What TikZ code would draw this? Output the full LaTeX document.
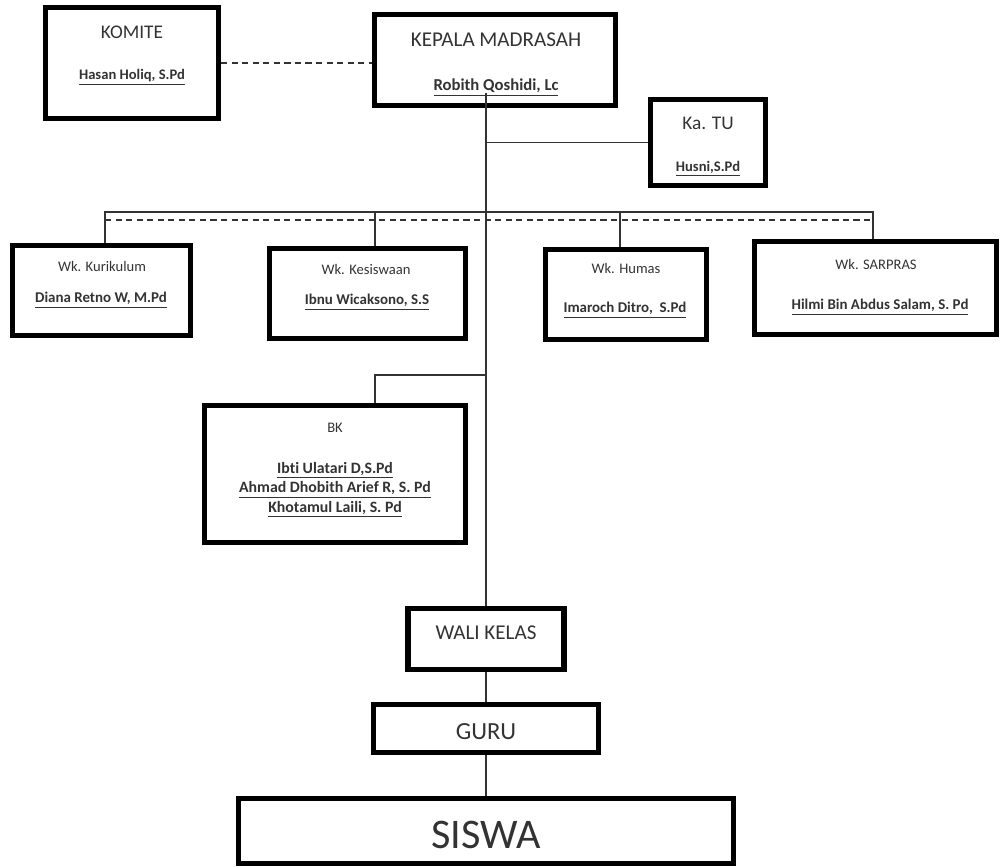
\documentclass[tikz,border=0pt]{standalone}
\usepackage{fontspec}
\setmainfont{Carlito}[Ligatures=NoCommon]
\usepackage{tikz}

\begin{document}
\begin{tikzpicture}[x=0.02cm,y=-0.02cm]
    \useasboundingbox (0,0) rectangle (1000,868);

    \begin{scope}[every node/.style={rectangle,draw,line width=3pt,inner sep=0pt}]
        \node[minimum width=3.46cm,minimum height=2.22cm] (komite) at (132,63) {};
        \node[minimum width=4.82cm,minimum height=1.82cm] (kepala) at (495,60) {};
        \node[minimum width=2.30cm,minimum height=1.72cm] (katu) at (708,142.5) {};
        \node[minimum width=3.56cm,minimum height=1.80cm] (kurikulum) at (101.5,290.5) {};
        \node[minimum width=3.92cm,minimum height=1.80cm] (kesiswaan) at (367.5,293.5) {};
        \node[minimum width=3.22cm,minimum height=1.80cm] (humas) at (626,294.5) {};
        \node[minimum width=4.84cm,minimum height=1.86cm] (sarpras) at (875.5,288) {};
        \node[minimum width=5.22cm,minimum height=2.74cm] (bk) at (335,474) {};
        \node[minimum width=3.12cm,minimum height=1.22cm] (wali) at (486,639) {};
        \node[minimum width=4.50cm,minimum height=0.96cm] (guru) at (486,728.5) {};
        \node[minimum width=9.90cm,minimum height=1.30cm] (siswa) at (486,831) {};
    \end{scope}

    \begin{scope}[every node/.style={text=black!80,inner sep=0pt,align=center}]
        \node[font=\fontsize{11}{13}\selectfont] (komiteT) at (132,32) {KOMITE};
        \node[font=\bfseries\fontsize{8.3}{10}\selectfont] (komiteN) at (132,77) {\underline{Hasan Holiq, S.Pd}};
        \node[font=\fontsize{12}{14}\selectfont] (kepalaT) at (496,40) {KEPALA MADRASAH};
        \node[font=\bfseries\fontsize{9.5}{11}\selectfont] (kepalaN) at (496,88) {\underline{Robith Qoshidi, Lc}};
        \node[font=\fontsize{11}{13}\selectfont] (katuT) at (708,123) {Ka. TU};
        \node[font=\bfseries\fontsize{8.3}{10}\selectfont] (katuN) at (708,169) {\underline{Husni,S.Pd}};
        % wakil kepala %
        \node[font=\fontsize{8.3}{10}\selectfont] (kurikulumT) at (102,266) {Wk. Kurikulum};
        \node[font=\bfseries\fontsize{8.5}{10}\selectfont] (kurikulumN) at (101,300) {\underline{Diana Retno W, M.Pd}};
        \node[font=\fontsize{8.3}{10}\selectfont] (kesiswaanT) at (366,269) {Wk. Kesiswaan};
        \node[font=\bfseries\fontsize{8.5}{10}\selectfont] (kesiswaanN) at (367,302) {\underline{Ibnu Wicaksono, S.S}};
        \node[font=\fontsize{8.3}{10}\selectfont] (humasT) at (626,268) {Wk. Humas};
        \node[font=\bfseries\fontsize{8.5}{10}\selectfont] (humasN) at (625,310) {\underline{Imaroch Ditro,~~S.Pd}};
        \node[font=\fontsize{8.3}{10}\selectfont] (sarprasT) at (876,264) {Wk. SARPRAS};
        \node[font=\bfseries\fontsize{8.5}{10}\selectfont] (sarprasN) at (880,307) {\underline{Hilmi Bin Abdus Salam, S. Pd}};
        % bimbingan konseling %
        \node[font=\fontsize{8.3}{10}\selectfont] (bkT) at (335,428) {BK};
        \node[font=\bfseries\fontsize{9}{11.1}\selectfont] (bkN) at (335,490)
            {\underline{Ibti Ulatari D,S.Pd}\\\underline{Ahmad Dhobith Arief R, S. Pd}\\\underline{Khotamul Laili, S. Pd}};
        \node[font=\fontsize{12}{14}\selectfont] (waliT) at (486,633) {WALI KELAS};
        \node[font=\fontsize{14}{16}\selectfont] (guruT) at (486,732) {GURU};
        \node[font=\fontsize{24}{28}\selectfont] (siswaT) at (486,835) {SISWA};
    \end{scope}

    \begin{scope}[line width=0.6pt,draw=black!80]
        \coordinate (spine) at (486,93);
        \coordinate (busL) at (105,212);
        \coordinate (busR) at (873,212);
        \coordinate (dashL) at (105,220);
        \coordinate (dashR) at (871,220);
        \coordinate (kesDrop) at (375,212);
        \coordinate (humDrop) at (620,212);
        \coordinate (bkDrop) at (375,375);

        \draw[dash pattern=on 3.5pt off 2.5pt] (komite) -- (komite -| kepala.west); % komite %
        \draw (spine) -- (wali);
        \draw (katu.west) -- (katu.west -| spine);
        \draw (kurikulum.north -| busL) -- (busL) -- (busR) -- (sarpras.north -| busR);
        \draw[dash pattern=on 3.5pt off 2.5pt] (dashL) -- (dashR);
        \draw (kesDrop) -- (kesDrop |- kesiswaan.north);
        \draw (humDrop) -- (humDrop |- humas.north);
        \draw (bkDrop -| spine) -- (bkDrop) -- (bkDrop |- bk.north);
        \draw (wali) -- (guru);
        \draw (guru) -- (siswa);
    \end{scope}

\end{tikzpicture}
\end{document}
